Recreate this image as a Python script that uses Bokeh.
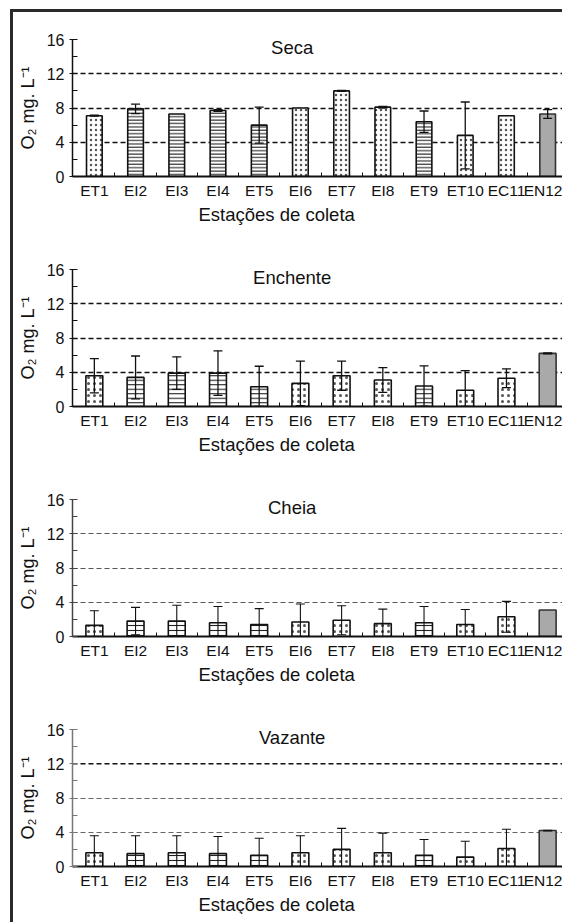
from bokeh.plotting import figure
from bokeh.layouts import column
from bokeh.models import (ColumnDataSource, Range1d, FixedTicker, Whisker, TeeHead,
                          Label, Span, Title)
from bokeh.embed import file_html
from bokeh.resources import INLINE

FONT = "Liberation Sans"

# ---------------- data ----------------
stations = ["ET1", "EI2", "EI3", "EI4", "ET5", "EI6", "ET7", "EI8", "ET9", "ET10", "EC11", "EN12"]
patterns = ["dot", "hline", "hline", "hline", "hline", "dot", "dot", "dot", "hline", "dot", "dot", "solid"]

seca_mean = [7.1, 7.9, 7.3, 7.7, 6.0, 8.0, 10.0, 8.1, 6.4, 4.8, 7.1, 7.3]
seca_sd = [0.06, 0.55, 0.0, 0.1, 2.1, 0.0, 0.06, 0.1, 1.25, 3.9, 0.0, 0.5]

enchente_mean = [3.6, 3.4, 3.9, 3.9, 2.3, 2.7, 3.6, 3.1, 2.4, 1.9, 3.3, 6.2]
enchente_sd = [2.0, 2.5, 1.9, 2.6, 2.4, 2.6, 1.7, 1.45, 2.35, 2.3, 1.1, 0.05]

cheia_mean = [1.3, 1.8, 1.8, 1.6, 1.4, 1.7, 1.9, 1.5, 1.6, 1.4, 2.3, 3.1]
cheia_sd = [1.7, 1.6, 1.85, 1.9, 1.85, 2.1, 1.7, 1.7, 1.9, 1.75, 1.8, 0.0]

vazante_mean = [1.6, 1.5, 1.6, 1.5, 1.3, 1.6, 2.0, 1.6, 1.3, 1.1, 2.1, 4.2]
vazante_sd = [2.0, 2.1, 2.0, 2.0, 2.0, 2.0, 2.45, 2.3, 1.85, 1.85, 2.25, 0.04]

y_ticks = [0, 4, 8, 12, 16]
y_minor = [2, 6, 10, 14]
ref_levels = [4, 8, 12]

panel_titles = ["Seca", "Enchente", "Cheia", "Vazante"]
x_title = "Estações de coleta"
y_title = "O\u2082 mg. L\u207b\u00b9"

styles = [
    dict(ref_color="#111111", ref_width=1.4, axis_color="#111111", bar_w=0.38,
         hl_scale=3.4, dot_scale=5, dot_w=1.1, err_w=1.3, bottom=66),
    dict(ref_color="#111111", ref_width=1.4, axis_color="#111111", bar_w=0.41,
         hl_scale=4.5, dot_scale=6, dot_w=1.4, err_w=1.3, bottom=66),
    dict(ref_color="#555555", ref_width=1.0, axis_color="#444444", bar_w=0.41,
         hl_scale=5, dot_scale=6, dot_w=1.4, err_w=1.1, bottom=66),
    dict(ref_color="#666666", ref_width=1.0, axis_color="#777777", bar_w=0.41,
         hl_scale=5, dot_scale=6, dot_w=1.4, err_w=1.1, bottom=48),
]


def make_panel(title, means, sds, st, dark_top=False):
    xs = list(range(len(stations)))
    hatch_map = {"dot": "dot", "hline": "horizontal_line", "solid": " "}
    fills = ["#a9a9a9" if pt == "solid" else "white" for pt in patterns]
    lines = ["#333333" if pt == "solid" else "#111111" for pt in patterns]
    hatches = [hatch_map[pt] for pt in patterns]
    scales = [st["hl_scale"] if pt == "hline" else st["dot_scale"] for pt in patterns]
    weights = [1.1 if pt == "hline" else st["dot_w"] for pt in patterns]
    hcolors = ["#222222" if pt == "hline" else "#555555" for pt in patterns]

    src = ColumnDataSource(dict(x=xs, top=means, fill=fills, line=lines, hatch=hatches,
                                hscale=scales, hweight=weights, hcolor=hcolors))

    p = figure(frame_width=490, frame_height=137,
               x_range=Range1d(-0.53, 11.36), y_range=Range1d(0, 16),
               output_backend="svg", toolbar_location=None,
               min_border_left=59, min_border_right=0, min_border_top=27,
               min_border_bottom=st["bottom"], outline_line_color=None,
               background_fill_color="white", border_fill_color="white")

    p.vbar(x="x", top="top", bottom=0, width=st["bar_w"], source=src,
           fill_color="fill", line_color="line", line_width=1.6,
           hatch_pattern="hatch", hatch_scale="hscale", hatch_weight="hweight",
           hatch_color="hcolor")

    ex = [x for x, s in zip(xs, sds) if s > 0]
    eu = [m + s for m, s in zip(means, sds) if s > 0]
    el = [max(0.0, m - s) for m, s in zip(means, sds) if s > 0]
    esrc = ColumnDataSource(dict(x=ex, upper=eu, lower=el))
    w = Whisker(base="x", upper="upper", lower="lower", source=esrc, level="overlay",
                line_color="#111111", line_width=st["err_w"],
                upper_head=TeeHead(size=9, line_width=st["err_w"], line_color="#111111"),
                lower_head=TeeHead(size=9, line_width=st["err_w"], line_color="#111111"))
    p.add_layout(w)

    # reference dashed lines
    p.xgrid.visible = False
    if dark_top:
        p.ygrid.ticker = FixedTicker(ticks=[v for v in ref_levels if v < 12])
        p.add_layout(Span(location=ref_levels[-1], dimension="width", line_color="#111111",
                          line_width=1.3, line_dash="5 3", level="underlay"))
    else:
        p.ygrid.ticker = FixedTicker(ticks=ref_levels)
    p.ygrid.grid_line_color = st["ref_color"]
    p.ygrid.grid_line_width = st["ref_width"]
    p.ygrid.grid_line_dash = "5 3"

    # x axis
    xa = p.xaxis[0]
    xa.ticker = FixedTicker(ticks=xs, minor_ticks=[i + 0.5 for i in range(len(stations) - 1)])
    xa.major_label_overrides = {i: s for i, s in enumerate(stations)}
    xa.major_tick_in = 0
    xa.major_tick_out = 0
    xa.minor_tick_in = 4
    xa.minor_tick_out = 0
    xa.minor_tick_line_color = "#111111"
    xa.axis_line_color = "#111111"
    xa.axis_line_width = 1.8
    xa.major_label_standoff = 5
    xa.major_label_text_font = FONT
    xa.major_label_text_font_size = "15.5px"
    xa.major_label_text_color = "#111111"

    # y axis
    ya = p.yaxis[0]
    ya.ticker = FixedTicker(ticks=y_ticks, minor_ticks=y_minor)
    ya.axis_line_color = st["axis_color"]
    ya.axis_line_width = 1.5
    ya.major_tick_in = 5
    ya.major_tick_out = 3
    ya.minor_tick_in = 5
    ya.minor_tick_out = 0
    ya.major_tick_line_color = st["axis_color"]
    ya.minor_tick_line_color = st["axis_color"]
    ya.major_label_standoff = 5
    ya.major_label_text_font = FONT
    ya.major_label_text_font_size = "16px"
    ya.major_label_text_color = "#111111"
    ya.axis_label = y_title
    ya.axis_label_text_font = FONT
    ya.axis_label_text_font_size = "18px"
    ya.axis_label_text_font_style = "normal"
    ya.axis_label_text_color = "#111111"
    ya.axis_label_standoff = 6

    p.add_layout(Label(x=4.8, y=15.1, text=title, text_align="center", text_baseline="middle",
                       text_font=FONT, text_font_size="18.5px", text_color="#111111"))
    p.add_layout(Title(text=x_title, align="left", offset=126, standoff=0,
                       text_font=FONT, text_font_size="18.5px", text_font_style="normal",
                       text_color="#111111"), "below")
    return p


data = [(seca_mean, seca_sd), (enchente_mean, enchente_sd),
        (cheia_mean, cheia_sd), (vazante_mean, vazante_sd)]

figs = []
for i, (t, (m, s)) in enumerate(zip(panel_titles, data)):
    figs.append(make_panel(t, m, s, styles[i], dark_top=(i == 3)))

layout = column(*figs, spacing=0,
                styles={"border-left": "3px solid #2a2a2a", "border-top": "3px solid #2a2a2a",
                        "margin-left": "10px", "margin-top": "9px", "padding-bottom": "8px"})

open("out.html", "w").write(file_html(layout, INLINE))
